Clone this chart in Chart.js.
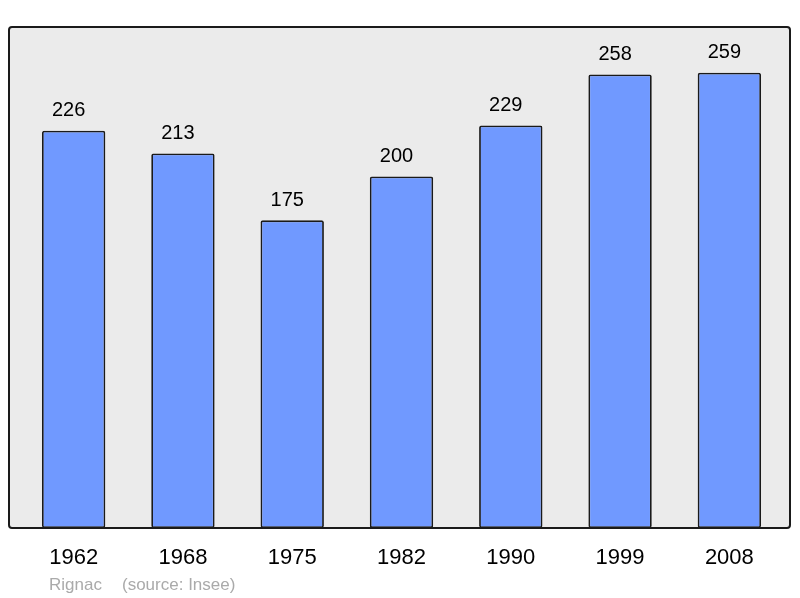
<!DOCTYPE html>
<html>
<head>
<meta charset="utf-8">
<script src="https://cdn.jsdelivr.net/npm/chart.js@4"></script>
<style>
  html, body { margin: 0; padding: 0; background: #fff; }
  #wrap { width: 800px; height: 598px; position: relative; }
</style>
</head>
<body>
<div id="wrap"><canvas id="grafico"></canvas></div>
<script>
const annees = ['1962', '1968', '1975', '1982', '1990', '1999', '2008'];
const population = [226, 213, 175, 200, 229, 258, 259];
const commune = 'Rignac';
const source = '(source: Insee)';

// fond gris et bordure du cadre
function traceCadre(chart) {
  const { ctx, chartArea: a } = chart;
  const x0 = a.left - 10, x1 = a.right + 6;
  ctx.beginPath();
  ctx.roundRect(x0, a.top, x1 - x0, a.bottom - a.top, 3);
}

const cadre = {
  id: 'cadre',
  beforeDatasetsDraw(chart) {
    const ctx = chart.ctx;
    ctx.save();
    traceCadre(chart);
    ctx.fillStyle = '#ebebeb';
    ctx.fill();
    ctx.restore();
  },
  afterDatasetsDraw(chart) {
    const ctx = chart.ctx;
    ctx.save();
    traceCadre(chart);
    ctx.lineWidth = 2;
    ctx.strokeStyle = '#1a1a1a';
    ctx.stroke();
    ctx.restore();
  }
};

// valeurs au-dessus des barres + années + source
const textes = {
  id: 'textes',
  afterDraw(chart) {
    const { ctx, chartArea: a } = chart;
    const meta = chart.getDatasetMeta(0);
    const xScale = chart.scales.x;
    ctx.save();
    ctx.textAlign = 'center';
    ctx.textBaseline = 'middle';
    ctx.fillStyle = '#000';
    ctx.font = '20px "Liberation Sans", Arial, sans-serif';
    meta.data.forEach((bar, i) => {
      ctx.fillText(population[i], bar.x - 5, bar.y - 20);
    });
    ctx.font = '22px "Liberation Sans", Arial, sans-serif';
    annees.forEach((an, i) => {
      ctx.fillText(an, xScale.getPixelForValue(i), a.bottom + 30);
    });
    ctx.textAlign = 'left';
    ctx.fillStyle = '#aaaaaa';
    ctx.font = '17px "Liberation Sans", Arial, sans-serif';
    ctx.fillText(commune, 49, a.bottom + 57);
    ctx.fillText(source, 122, a.bottom + 57);
    ctx.restore();
  }
};

new Chart(document.getElementById('grafico'), {
  type: 'bar',
  data: {
    labels: annees,
    datasets: [{
      data: population,
      backgroundColor: '#7099ff',
      borderColor: '#1a1a1a',
      borderWidth: 1.8,
      borderSkipped: false,
      borderRadius: 2,
      categoryPercentage: 1,
      barPercentage: 0.58
    }]
  },
  options: {
    responsive: true,
    maintainAspectRatio: false,
    animation: false,
    layout: { padding: { left: 19, right: 16, top: 27, bottom: 70 } },
    plugins: { legend: { display: false }, tooltip: { enabled: false } },
    scales: {
      x: { display: false, offset: true },
      y: { display: false, min: 0, max: 285 }
    }
  },
  plugins: [cadre, textes]
});
</script>
</body>
</html>
